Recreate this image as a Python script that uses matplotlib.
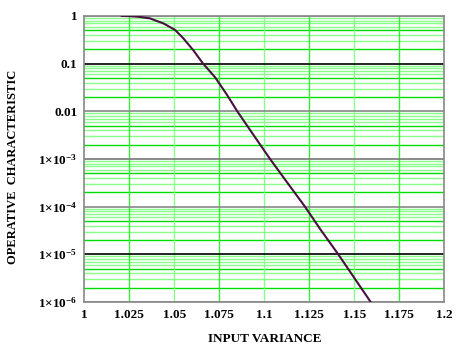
import numpy as np
import matplotlib
matplotlib.use("Agg")
import matplotlib.pyplot as plt
from matplotlib.ticker import FixedLocator, LogLocator, NullFormatter

# -------------------------------
# Values
# -------------------------------
variance = [1.0208, 1.025, 1.030, 1.0365, 1.040, 1.0439, 1.0504, 1.055,
            1.0606, 1.066, 1.0726, 1.079, 1.085, 1.0935, 1.1032, 1.1125,
            1.1226, 1.1315, 1.1411, 1.150, 1.1591]
operative = [1.0, 0.99, 0.96, 0.89, 0.79, 0.70, 0.51, 0.34,
             0.19, 0.1, 0.052, 0.023, 0.01, 3.4e-3, 1e-3, 3.3e-4,
             1e-4, 3.2e-5, 1e-5, 3.2e-6, 1e-6]

x_ticks = [1, 1.025, 1.05, 1.075, 1.1, 1.125, 1.15, 1.175, 1.2]
x_labels = ["1", "1.025", "1.05", "1.075", "1.1", "1.125", "1.15", "1.175", "1.2"]
y_ticks = [1, 0.1, 0.01, 1e-3, 1e-4, 1e-5, 1e-6]
y_labels = ["1", "0.1", "0.01", r"$1{\times}10^{-3}$", r"$1{\times}10^{-4}$",
            r"$1{\times}10^{-5}$", r"$1{\times}10^{-6}$"]
major_colors = ["#888888", "black", "#888888", "#777777", "#888888", "black", "#888888"]

plt.rcParams["mathtext.fontset"] = "custom"
plt.rcParams["mathtext.rm"] = "Liberation Serif:bold"
plt.rcParams["mathtext.it"] = "Liberation Serif:bold"

fig = plt.figure(figsize=(4.58, 3.54), dpi=100)
ax = fig.add_axes([0.184, 0.147, 0.786, 0.808])

ax.set_yscale("log")
ax.set_xlim(1, 1.2)
ax.set_ylim(1e-6, 1)

# grid: green minor lines, gray/black decade lines, green verticals
for decade in range(-6, 0):
    for m in range(2, 10):
        v = m * 10.0 ** decade
        c = "#00dd00" if m in (2, 5) else "#88ff88"
        ax.axhline(v, color=c, lw=1.0, zorder=1)
for v, c in zip(y_ticks, major_colors):
    ax.axhline(v, color=c, lw=1.2, zorder=2)
for i, v in enumerate(x_ticks[1:-1]):
    c = "#33ee33" if i % 2 == 0 else "#88ff88"
    ax.axvline(v, color=c, lw=1.0, zorder=1)

ax.plot(variance, operative, color="#4a1040", lw=1.5, zorder=3)

ax.xaxis.set_major_locator(FixedLocator(x_ticks))
ax.set_xticklabels(x_labels)
ax.yaxis.set_major_locator(FixedLocator(y_ticks))
ax.set_yticklabels(y_labels)
ax.yaxis.set_minor_locator(LogLocator(subs=[]))
ax.yaxis.set_minor_formatter(NullFormatter())
ax.tick_params(length=0, labelsize=9.5, pad=5)
for lab in ax.get_xticklabels() + ax.get_yticklabels():
    lab.set_fontfamily("Liberation Serif")
    lab.set_fontweight("bold")

for s in ax.spines.values():
    s.set_color("#888888")
    s.set_linewidth(1.2)

ax.set_xlabel("INPUT VARIANCE", fontfamily="Liberation Serif",
              fontweight="bold", fontsize=9.5, labelpad=9)
fig.text(0.028, 0.528, "OPERATIVE  CHARACTERISTIC", rotation=90,
         ha="center", va="center", fontfamily="Liberation Serif",
         fontweight="bold", fontsize=9)

fig.savefig("out.png", dpi=100)
